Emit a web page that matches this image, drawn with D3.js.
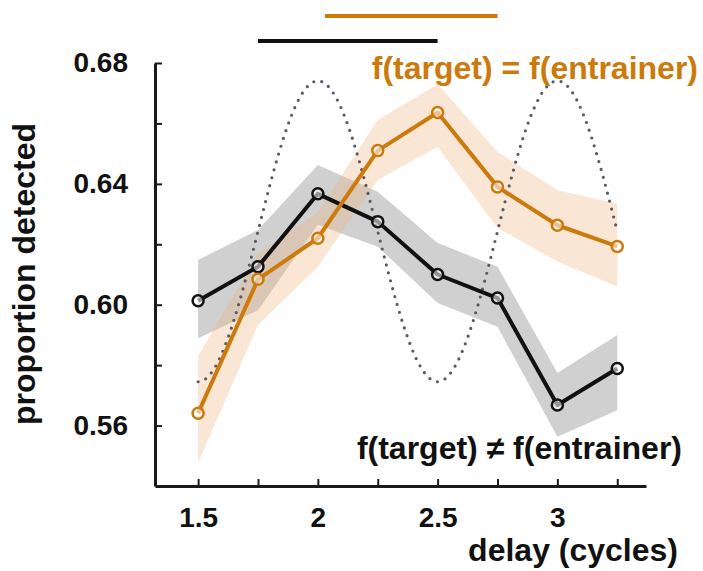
<!DOCTYPE html>
<html>
  <head>
    <style>
      body { margin: 0; background: #fff; }
      text { font-family: "Liberation Sans", Arial, sans-serif; font-weight: bold; }
      .axis path, .axis line { stroke: #1a1a1a; }
    </style>
    <script src="https://d3js.org/d3.v7.min.js"></script>
  </head>
  <body>
    <svg class="chart"></svg>

    <script>
      // delays in cycles
      const delays = [1.5, 1.75, 2, 2.25, 2.5, 2.75, 3, 3.25];

      // f(target) != f(entrainer)
      const diffMean  = [0.6013, 0.6126, 0.6367, 0.6275, 0.6100, 0.6022, 0.5668, 0.5789];
      const diffLower = [0.5889, 0.5982, 0.6265, 0.6192, 0.6006, 0.5927, 0.5563, 0.5651];
      const diffUpper = [0.6148, 0.6247, 0.6462, 0.6374, 0.6204, 0.6126, 0.5774, 0.5900];

      // f(target) = f(entrainer)
      const sameMean  = [0.5641, 0.6084, 0.6220, 0.6510, 0.6636, 0.6390, 0.6263, 0.6193];
      const sameLower = [0.5476, 0.5933, 0.6126, 0.6413, 0.6523, 0.6254, 0.6143, 0.6060];
      const sameUpper = [0.5830, 0.6168, 0.6307, 0.6611, 0.6730, 0.6506, 0.6379, 0.6335];

      // significance bars (delay ranges)
      const sameSig = [2.03, 2.75];
      const diffSig = [1.75, 2.5];

      // entrainer rhythm: peaks at whole cycles
      const wavePeak = 0.6741;
      const waveTrough = 0.5745;
      const waveRange = [1.5, 3.25];

      const yTicks = [0.56, 0.58, 0.60, 0.62, 0.64, 0.66, 0.68];
      const yLabels = [0.56, 0.60, 0.64, 0.68];
      const xTicks = [1.5, 1.75, 2, 2.25, 2.5, 2.75, 3, 3.25];
      const xLabels = [1.5, 2, 2.5, 3];

      const width = 703;
      const height = 571;

      const svg = d3.select('svg')
        .attr('width', width)
        .attr('height', height);

      const x = d3.scaleLinear().domain([1.32, 3.37]).range([155, 646]);
      const y = d3.scaleLinear().domain([0.54, 0.68]).range([486, 63]);

      const orange = '#cc7a0c';

      // bands
      const band = d3.area()
        .x(d => x(d.x))
        .y0(d => y(d.lo))
        .y1(d => y(d.hi));

      const diffData = delays.map((d, i) => ({ x: d, m: diffMean[i], lo: diffLower[i], hi: diffUpper[i] }));
      const sameData = delays.map((d, i) => ({ x: d, m: sameMean[i], lo: sameLower[i], hi: sameUpper[i] }));

      svg.append('path').datum(diffData).attr('d', band)
        .attr('fill', '#a2a2a2').attr('fill-opacity', 0.5);
      svg.append('path').datum(sameData).attr('d', band)
        .attr('fill', '#eeb27a').attr('fill-opacity', 0.32);

      // dotted entrainer wave
      const waveMid = (wavePeak + waveTrough) / 2;
      const waveAmp = (wavePeak - waveTrough) / 2;
      const wave = d3.range(waveRange[0], waveRange[1] + 0.001, 0.01)
        .map(t => ({ x: t, y: waveMid + waveAmp * Math.cos(2 * Math.PI * (t - 2)) }));

      svg.append('path').datum(wave)
        .attr('d', d3.line().x(d => x(d.x)).y(d => y(d.y)))
        .attr('fill', 'none')
        .attr('stroke', '#555a66')
        .attr('stroke-width', 3.2)
        .attr('stroke-linecap', 'round')
        .attr('stroke-dasharray', '0 8.2');

      // mean lines
      const line = d3.line().x(d => x(d.x)).y(d => y(d.m));

      function series(data, color) {
        svg.append('path').datum(data).attr('d', line)
          .attr('fill', 'none')
          .attr('stroke', color)
          .attr('stroke-width', 4)
          .attr('stroke-linejoin', 'round');
        svg.append('g').selectAll('circle').data(data).join('circle')
          .attr('cx', d => x(d.x))
          .attr('cy', d => y(d.m))
          .attr('r', 5.5)
          .attr('fill', '#fff')
          .attr('fill-opacity', 0.55)
          .attr('stroke', color)
          .attr('stroke-width', 2.5);
      }
      series(diffData, '#111');
      series(sameData, orange);

      // axes
      const yAxis = d3.axisLeft(y)
        .tickValues(yTicks)
        .tickSizeInner(-7)
        .tickSizeOuter(0)
        .tickPadding(27)
        .tickFormat(d => yLabels.some(v => Math.abs(v - d) < 1e-9) ? d3.format('.2f')(d) : '');

      const gy = svg.append('g').attr('class', 'axis')
        .attr('transform', 'translate(155,0)')
        .call(yAxis);

      const xAxis = d3.axisBottom(x)
        .tickValues(xTicks)
        .tickSizeInner(-7)
        .tickSizeOuter(0)
        .tickPadding(21)
        .tickFormat(d => xLabels.includes(d) ? String(d) : '');

      const gx = svg.append('g').attr('class', 'axis')
        .attr('transform', 'translate(0,486)')
        .call(xAxis);

      [gx, gy].forEach(g => {
        g.select('.domain').attr('stroke-width', 3);
        g.selectAll('.tick line').attr('stroke-width', 2);
        g.selectAll('.tick text')
          .attr('fill', '#111')
          .style('font-size', '28px')
          .style('font-family', '"Liberation Sans", Arial, sans-serif')
          .style('font-weight', 'bold');
      });

      // significance bars
      svg.append('line')
        .attr('x1', x(sameSig[0])).attr('x2', x(sameSig[1]))
        .attr('y1', 16).attr('y2', 16)
        .attr('stroke', orange).attr('stroke-width', 4);
      svg.append('line')
        .attr('x1', x(diffSig[0])).attr('x2', x(diffSig[1]))
        .attr('y1', 41).attr('y2', 41)
        .attr('stroke', '#111').attr('stroke-width', 4);

      // labels
      svg.append('text')
        .attr('x', 678).attr('y', 561)
        .attr('text-anchor', 'end')
        .attr('fill', '#111')
        .style('font-size', '32px')
        .text('delay (cycles)');

      svg.append('text')
        .attr('transform', 'translate(35,274) rotate(-90)')
        .attr('text-anchor', 'middle')
        .attr('fill', '#111')
        .style('font-size', '32px')
        .text('proportion detected');

      svg.append('text')
        .attr('x', 698).attr('y', 79)
        .attr('text-anchor', 'end')
        .attr('fill', orange)
        .style('font-size', '32px')
        .text('f(target) = f(entrainer)');

      svg.append('text')
        .attr('x', 682).attr('y', 459)
        .attr('text-anchor', 'end')
        .attr('fill', '#111')
        .style('font-size', '32px')
        .text('f(target) \u2260 f(entrainer)');
    </script>
  </body>
</html>
